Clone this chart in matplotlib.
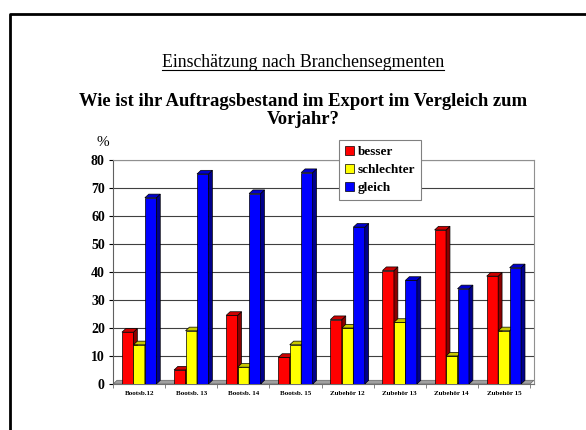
import numpy as np
import matplotlib.pyplot as plt
from matplotlib.patches import Polygon, Patch
from matplotlib.lines import Line2D

categories = ["Bootsb.12", "Bootsb. 13", "Bootsb. 14", "Bootsb. 15",
              "Zubehör 12", "Zubehör 13", "Zubehör 14", "Zubehör 15"]
besser = [18.5, 5, 24.5, 9.5, 23, 40.5, 55, 38.5]
schlechter = [14, 19, 6, 14, 20, 22, 10, 19]
gleich = [66.5, 75, 68, 75.5, 56, 37, 34, 41.5]

series = [("besser", besser, "#ff0000", "#cc0000", "#8b0000"),
          ("schlechter", schlechter, "#ffff00", "#c8c800", "#9a9a00"),
          ("gleich", gleich, "#0000ff", "#0000cc", "#00008b")]

serif = "Liberation Serif"

fig = plt.figure(figsize=(5.86, 4.30), dpi=100)
ax = fig.add_axes([0.193, 0.107, 0.718, 0.521])

x = np.arange(len(categories))
w = 0.22
dx, dy = 0.075, 1.3  # fake 3d depth

# floor of the 3d box
ax.add_patch(Polygon([(-0.5, 0), (7.5, 0), (7.5 + dx, dy), (-0.5 + dx, dy)],
                     closed=True, facecolor="#a0a0a0", edgecolor="#707070",
                     lw=0.6, zorder=1))

for i, (name, vals, front, top, side) in enumerate(series):
    xs = x + (i - 1) * w
    ax.bar(xs, vals, width=w, color=front, edgecolor="black", lw=0.5, zorder=3 + i)
    for xc, v in zip(xs, vals):
        l, r = xc - w / 2, xc + w / 2
        ax.add_patch(Polygon([(r, 0), (r + dx, dy), (r + dx, v + dy), (r, v)],
                             closed=True, facecolor=side, edgecolor="black",
                             lw=0.5, zorder=3 + i))
        ax.add_patch(Polygon([(l, v), (r, v), (r + dx, v + dy), (l + dx, v + dy)],
                             closed=True, facecolor=top, edgecolor="black",
                             lw=0.5, zorder=3 + i))

ax.set_xlim(-0.5, 7.5 + dx)
ax.set_ylim(0, 80)
ax.set_yticks(range(0, 81, 10))
ax.yaxis.grid(True, color="#404040", lw=0.8, zorder=0)
ax.set_axisbelow(True)
ax.set_xticks(x)
ax.set_xticklabels(categories, fontsize=5, fontweight="bold", family=serif)
ax.set_xticks(np.arange(-0.5, 8, 1), minor=True)
ax.tick_params(axis="x", which="major", length=0, pad=5)
ax.tick_params(axis="x", which="minor", length=3, color="#707070")
ax.tick_params(axis="y", length=3, pad=3)
for lab in ax.get_yticklabels():
    lab.set_family(serif)
    lab.set_fontweight("bold")
    lab.set_fontsize(10)
for s in ["top", "right"]:
    ax.spines[s].set_color("#909090")
ax.spines["left"].set_color("#606060")
ax.spines["bottom"].set_color("#707070")

fig.text(0.176, 0.668, "%", family=serif, fontsize=11, ha="center", va="center")

t1 = fig.text(0.517, 0.855, "Einschätzung nach Branchensegmenten", family=serif,
              fontsize=12.8, ha="center", va="center")
fig.text(0.517, 0.742, "Wie ist ihr Auftragsbestand im Export im Vergleich zum\nVorjahr?",
         family=serif, fontsize=13.4, fontweight="bold", ha="center", va="center",
         linespacing=1.08)

# underline the first title
fig.canvas.draw()
bb = t1.get_window_extent(fig.canvas.get_renderer()).transformed(fig.transFigure.inverted())
fig.add_artist(Line2D([bb.x0, bb.x1], [bb.y0 + 0.002, bb.y0 + 0.002],
                      transform=fig.transFigure, color="black", lw=0.8))

# slide frame
fig.add_artist(Line2D([0.017, 0.017, 1.0], [0.0, 0.968, 0.968],
                      transform=fig.transFigure, color="black", lw=2.0))

handles = [Patch(facecolor=c, edgecolor="black", lw=0.5) for _, _, c, _, _ in series]
leg = fig.legend(handles, [s[0] for s in series], loc="upper left",
                 bbox_to_anchor=(0.578, 0.674), bbox_transform=fig.transFigure,
                 borderaxespad=0, fancybox=False, framealpha=1, edgecolor="#808080",
                 handlelength=0.7, handleheight=0.7, handletextpad=0.3,
                 borderpad=0.45, labelspacing=0.42,
                 prop={"family": serif, "weight": "bold", "size": 9.5})
leg.get_frame().set_linewidth(0.8)

fig.savefig("out.png", dpi=100)
